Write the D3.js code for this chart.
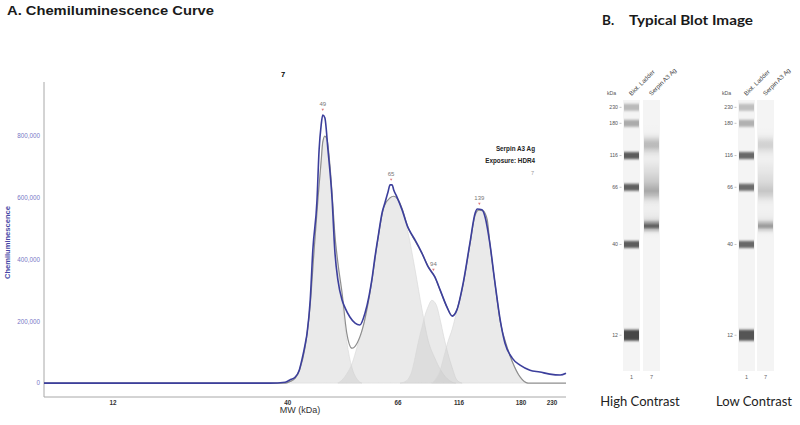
<!DOCTYPE html>
<html>
<head>
<meta charset="utf-8">
<script src="https://cdn.jsdelivr.net/npm/d3@7"></script>
<style>
  body { margin: 0; background: #fff; }
  svg { display: block; }
</style>
</head>
<body>
<div id="chart"></div>
<script>
// ladder standards (kDa), their relative migration (0-100) and band strength on the blot
const ladderMW = [12, 40, 66, 116, 180, 230];
const ladderMigration = [13.2, 46.7, 67.8, 79.5, 91.4, 97.3];
const ladderDarkness = [0.72, 0.64, 0.62, 0.64, 0.33, 0.27];

const yTicks = [0, 200000, 400000, 600000, 800000];

// measured electropherogram: [relative migration, chemiluminescence]
const trace = [[0,0],[13.2,0],[29.9,0],[43.3,0],[46.2,3000],[47.1,10000],[48.1,19000],[48.9,42000],
  [49.4,75000],[50.0,123000],[50.4,162000],[51.0,269000],[51.5,431000],[52.3,593000],[52.7,755000],
  [53.1,836000],[53.4,868000],[53.8,859000],[54.4,755000],[55.2,593000],[55.7,431000],[56.3,334000],
  [57.1,269000],[57.7,243000],[58.6,214000],[59.6,194000],[60.5,188000],[61.5,227000],[62.3,285000],
  [62.8,334000],[63.4,408000],[64.0,473000],[64.8,554000],[65.3,583000],[65.9,619000],[66.3,642000],
  [66.7,642000],[67.0,625000],[67.6,603000],[68.6,561000],[69.7,505000],[70.5,480000],[71.1,463000],
  [72.4,421000],[73.6,376000],[74.9,343000],[75.9,301000],[77.2,246000],[78.2,217000],[79.1,237000],
  [80.3,324000],[81.6,454000],[82.6,551000],[83.0,564000],[83.9,561000],[84.5,538000],[85.4,454000],
  [86.4,324000],[87.4,204000],[88.3,130000],[89.7,81000],[91.2,58000],[93.1,42000],[95.0,36000],
  [96.9,29000],[98.9,26000],[100,32000]];

// total of the fitted peaks
const fit = [[0,0],[46.2,0],[47.1,5000],[48.1,15000],[49.0,45000],[50.0,115000],[51.0,255000],
  [51.7,420000],[52.5,600000],[53.1,720000],[53.4,780000],[53.8,800000],[54.2,790000],[54.8,700000],
  [55.4,560000],[55.7,485000],[56.3,390000],[57.1,292000],[58.0,162000],[59.0,113000],[60.0,130000],
  [61.1,181000],[62.1,260000],[62.8,330000],[64.0,470000],[65.1,570000],[66.3,600000],[67.0,605000],
  [67.8,595000],[68.6,565000],[69.7,505000],[71.1,460000],[72.4,420000],[73.6,378000],[74.9,343000],
  [75.9,300000],[77.2,246000],[78.2,218000],[79.1,238000],[80.3,320000],[81.6,450000],[82.6,545000],
  [83.3,560000],[84.1,558000],[84.9,530000],[85.4,455000],[86.4,322000],[87.4,200000],[88.7,117000],
  [89.7,70000],[91.2,20000],[92.7,0],[100,0]];

// individual fitted peaks
const comp49 = [[46.2,0],[47.1,5000],[48.1,15000],[49.0,45000],[50.0,115000],[51.0,255000],[51.7,420000],
  [52.5,600000],[53.1,720000],[53.4,780000],[53.8,800000],[54.2,790000],[54.8,700000],[55.4,560000],
  [55.7,485000],[56.3,380000],[57.1,265000],[58.0,135000],[59.0,50000],[60.0,12000],[60.9,0]];
const comp65 = [[56.3,0],[57.1,10000],[58.0,30000],[59.0,63000],[60.0,118000],[61.1,181000],[62.1,260000],
  [62.8,330000],[64.0,470000],[65.1,570000],[66.3,600000],[67.0,605000],[67.8,595000],[68.6,560000],
  [69.7,490000],[71.1,366000],[72.4,240000],[73.6,138000],[74.9,80000],[75.9,45000],[77.2,15000],
  [78.2,3000],[78.9,0]];
const comp94 = [[68.2,0],[69.2,5000],[69.7,12000],[70.5,40000],[71.1,84000],[71.8,140000],[72.4,181000],
  [73.0,220000],[73.6,248000],[74.3,268000],[75.1,255000],[75.9,205000],[76.6,150000],[77.4,95000],
  [78.2,50000],[79.1,10000],[80.1,0]];
const comp139 = [[74.3,0],[75.1,15000],[75.9,42000],[76.6,85000],[77.4,135000],[78.2,175000],[79.1,235000],
  [80.3,320000],[81.6,450000],[82.6,540000],[83.3,560000],[84.1,556000],[84.9,520000],[85.4,455000],
  [86.4,322000],[87.4,200000],[88.7,117000],[89.7,70000],[91.2,20000],[92.7,0]];

const peakLabels = ["49", "65", "94", "139"];
const peakMigration = [53.4, 66.5, 74.6, 83.4];
const peakSignal = [868000, 642000, 350000, 564000];

const width = 800;
const height = 425;
const font = "'Liberation Sans', Arial, sans-serif";

const svg = d3.select("#chart").append("svg")
    .attr("width", width)
    .attr("height", height)
    .style("font-family", font);

// ---------- A. chemiluminescence curve ----------
const x = d3.scaleLinear().domain([0, 100]).range([44, 566]);
const y = d3.scaleLinear().domain([-45000, 975000]).range([397, 82]);

svg.append("text")
    .attr("x", 7).attr("y", 15)
    .attr("font-size", 13.5).attr("font-weight", "bold")
    .attr("fill", "#1a1a1a")
    .attr("textLength", 207).attr("lengthAdjust", "spacingAndGlyphs")
    .text("A. Chemiluminescence Curve");

svg.append("text")
    .attr("x", 283).attr("y", 77)
    .attr("text-anchor", "middle")
    .attr("font-size", 7.5).attr("font-weight", "bold")
    .text("7");

// axes lines
svg.append("line")
    .attr("x1", x(0)).attr("x2", x(0))
    .attr("y1", y.range()[1]).attr("y2", y.range()[0])
    .attr("stroke", "#a8a8a8");
svg.append("line")
    .attr("x1", x(0)).attr("x2", x(100))
    .attr("y1", y.range()[0]).attr("y2", y.range()[0])
    .attr("stroke", "#a8a8a8");

const fmt = d3.format(",");
svg.append("g")
    .selectAll("text")
    .data(yTicks)
    .join("text")
    .attr("x", x(0) - 4)
    .attr("y", d => y(d))
    .attr("dy", "0.35em")
    .attr("text-anchor", "end")
    .attr("font-size", 6.3)
    .attr("fill", "#7777c6")
    .text(d => fmt(d));

svg.append("text")
    .attr("transform", `translate(10, ${y(400000) - 17}) rotate(-90)`)
    .attr("text-anchor", "middle")
    .attr("font-size", 8).attr("font-weight", "bold")
    .attr("fill", "#4848a6")
    .attr("textLength", 73).attr("lengthAdjust", "spacingAndGlyphs")
    .text("Chemiluminescence");

svg.append("g")
    .selectAll("text")
    .data(ladderMW)
    .join("text")
    .attr("x", (d, i) => x(ladderMigration[i]))
    .attr("y", 405)
    .attr("text-anchor", "middle")
    .attr("font-size", 6.3).attr("font-weight", "bold")
    .attr("fill", "#333")
    .text(d => d);

svg.append("text")
    .attr("x", 300).attr("y", 413)
    .attr("text-anchor", "middle")
    .attr("font-size", 9)
    .attr("fill", "#333")
    .text("MW (kDa)");

// fitted peaks
const area = d3.area()
    .x(d => x(d[0]))
    .y0(y(0))
    .y1(d => y(d[1]))
    .curve(d3.curveMonotoneX);

svg.append("g")
    .selectAll("path")
    .data([comp49, comp65, comp94, comp139])
    .join("path")
    .attr("d", area)
    .attr("fill", "#c8c8c8")
    .attr("fill-opacity", 0.38)
    .attr("stroke", "#d6d6d6")
    .attr("stroke-width", 0.6);

const line = d3.line()
    .x(d => x(d[0]))
    .y(d => y(d[1]))
    .curve(d3.curveMonotoneX);

svg.append("path")
    .datum(fit)
    .attr("d", line)
    .attr("fill", "none")
    .attr("stroke", "#8e8e8e")
    .attr("stroke-width", 1.2);

svg.append("path")
    .datum(trace)
    .attr("d", line)
    .attr("fill", "none")
    .attr("stroke", "#3c3f9c")
    .attr("stroke-width", 1.6)
    .attr("stroke-linejoin", "round");

// peak markers and labels
const peaks = svg.append("g");
peaks.selectAll("path")
    .data(peakLabels)
    .join("path")
    .attr("d", (d, i) => {
        const px = x(peakMigration[i]), py = y(peakSignal[i]) - 5;
        return `M${px - 1.3},${py - 1.2}L${px + 1.3},${py - 1.2}L${px},${py + 1}Z`;
    })
    .attr("fill", "#e07a7a");
peaks.selectAll("text")
    .data(peakLabels)
    .join("text")
    .attr("x", (d, i) => x(peakMigration[i]))
    .attr("y", (d, i) => y(peakSignal[i]) - 9)
    .attr("text-anchor", "middle")
    .attr("font-size", 6)
    .attr("fill", "#777")
    .text(d => d);

// legend
const legend = svg.append("g")
    .attr("text-anchor", "end")
    .attr("font-size", 6.3);
legend.append("text").attr("x", 535).attr("y", 151).attr("font-weight", "bold").attr("fill", "#222").text("Serpin A3 Ag");
legend.append("text").attr("x", 535).attr("y", 163).attr("font-weight", "bold").attr("fill", "#222").text("Exposure: HDR4");
legend.append("text").attr("x", 534).attr("y", 175).attr("fill", "#999").attr("font-size", 5.5).text("7");

// ---------- B. typical blot image ----------
svg.append("text")
    .attr("x", 602).attr("y", 25)
    .attr("font-family", "Lato, 'Open Sans', sans-serif")
    .attr("font-size", 13.5).attr("font-weight", "bold")
    .attr("fill", "#1a1a1a")
    .text("B.");
svg.append("text")
    .attr("x", 629).attr("y", 25)
    .attr("font-family", "Lato, 'Open Sans', sans-serif")
    .attr("font-size", 13.5).attr("font-weight", "bold")
    .attr("fill", "#1a1a1a")
    .attr("textLength", 124).attr("lengthAdjust", "spacingAndGlyphs")
    .text("Typical Blot Image");

const blotY = d3.scaleLinear().domain([0, 100]).range([371, 100]);
const laneW = 17;
const vMax = d3.max(trace, d => d[1]);

const defs = svg.append("defs");
defs.append("filter")
    .attr("id", "soft")
    .attr("x", "-20%").attr("y", "-100%").attr("width", "140%").attr("height", "300%")
    .append("feGaussianBlur")
    .attr("stdDeviation", "0.5 1.2");

const panels = [
    { name: "High Contrast", ladderX: 623, sampleX: 643, contrast: 1.0, sampleDark: 0.6, labelX: 640 },
    { name: "Low Contrast", ladderX: 738, sampleX: 757, contrast: 0.93, sampleDark: 0.36, labelX: 754 }
];

panels.forEach((p, pi) => {
    const g = svg.append("g");

    // lane background strips
    [p.ladderX, p.sampleX].forEach(lx => {
        g.append("rect")
            .attr("x", lx).attr("y", blotY(100))
            .attr("width", laneW).attr("height", blotY(0) - blotY(100))
            .attr("fill", "#f4f4f4");
    });

    // sample lane: signal of the trace laid along the migration axis
    const gid = "lane" + pi;
    const grad = defs.append("linearGradient")
        .attr("id", gid)
        .attr("gradientUnits", "userSpaceOnUse")
        .attr("x1", 0).attr("x2", 0)
        .attr("y1", blotY(100)).attr("y2", blotY(0));
    grad.selectAll("stop")
        .data(trace.slice().reverse())
        .join("stop")
        .attr("offset", d => (blotY(d[0]) - blotY(100)) / (blotY(0) - blotY(100)))
        .attr("stop-color", "#000")
        .attr("stop-opacity", d => p.sampleDark * Math.pow(d[1] / vMax, 2.2));
    g.append("rect")
        .attr("x", p.sampleX + 1).attr("y", blotY(100))
        .attr("width", laneW - 2).attr("height", blotY(0) - blotY(100))
        .attr("fill", `url(#${gid})`);

    // ladder bands
    g.selectAll(".band")
        .data(ladderMW)
        .join("rect")
        .attr("class", "band")
        .attr("x", p.ladderX + 1)
        .attr("width", laneW - 2)
        .attr("y", (d, i) => blotY(ladderMigration[i]) - (d < 20 ? 5.5 : 3.5))
        .attr("height", d => d < 20 ? 11 : 7)
        .attr("fill", (d, i) => {
            const v = Math.round(255 * (1 - ladderDarkness[i] * p.contrast));
            return `rgb(${v},${v},${v})`;
        })
        .attr("filter", "url(#soft)");

    // ladder labels with small ticks
    g.selectAll(".mw")
        .data(ladderMW)
        .join("text")
        .attr("class", "mw")
        .attr("x", p.ladderX - 5)
        .attr("y", (d, i) => blotY(ladderMigration[i]))
        .attr("dy", "0.35em")
        .attr("text-anchor", "end")
        .attr("font-size", 5.2)
        .attr("fill", "#555")
        .text(d => d);
    g.selectAll(".tk")
        .data(ladderMW)
        .join("line")
        .attr("class", "tk")
        .attr("x1", p.ladderX - 3.5).attr("x2", p.ladderX - 1.5)
        .attr("y1", (d, i) => blotY(ladderMigration[i]))
        .attr("y2", (d, i) => blotY(ladderMigration[i]))
        .attr("stroke", "#888").attr("stroke-width", 0.5);

    g.append("text")
        .attr("x", p.ladderX - 16).attr("y", 95)
        .attr("font-size", 5.2).attr("fill", "#555")
        .text("kDa");

    // lane headers
    [[p.ladderX, "Biot. Ladder"], [p.sampleX, "Serpin A3 Ag"]].forEach(([lx, t]) => {
        g.append("text")
            .attr("transform", `translate(${lx + laneW / 2}, 96) rotate(-45)`)
            .attr("font-size", 6.2).attr("fill", "#444")
            .text(t);
    });

    // lane numbers
    [[p.ladderX, "1"], [p.sampleX, "7"]].forEach(([lx, t]) => {
        g.append("text")
            .attr("x", lx + laneW / 2).attr("y", 379)
            .attr("text-anchor", "middle")
            .attr("font-size", 5.5).attr("fill", "#666")
            .text(t);
    });

    g.append("text")
        .attr("x", p.labelX).attr("y", 406)
        .attr("text-anchor", "middle")
        .attr("font-family", "Lato, 'Open Sans', sans-serif")
        .attr("font-size", 13)
        .attr("fill", "#222")
        .text(p.name);
});
</script>
</body>
</html>
